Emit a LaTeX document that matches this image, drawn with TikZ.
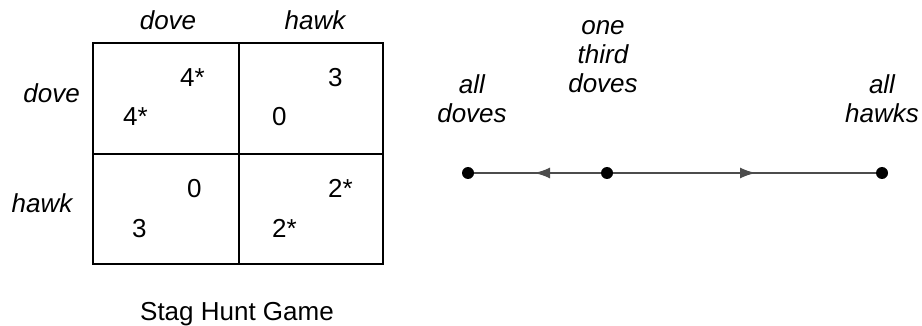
\documentclass[tikz,border=0pt]{standalone}
\usepackage{fontspec}
\setmainfont{Liberation Sans}
\usetikzlibrary{arrows.meta}
\begin{document}
\begin{tikzpicture}[x=1pt,y=-1pt,
  lbl/.style={font=\fontsize{26}{29}\selectfont\itshape, inner sep=0pt, align=center},
  num/.style={font=\fontsize{26}{29}\selectfont, inner sep=0pt, anchor=base west},
  grid/.style={draw=black, line width=1.5pt},
  axis/.style={draw=black!70, line width=2.2pt},
  dot/.style={circle, fill=black, inner sep=0pt, minimum size=12pt},
  tip/.style={-{Latex[length=16pt,width=11pt]}}]
\useasboundingbox (0,0) rectangle (922,326);
% payoff table
\draw[grid] (93,43) rectangle (383,264);
\draw[grid] (239,43) -- (239,264);
\draw[grid] (93,154) -- (383,154);
% labels
\node[lbl, anchor=base] (cd) at (168,30) {dove};
\node[lbl, anchor=base] (ch) at (315,30) {hawk};
\node[lbl, anchor=base east] (rd) at (80,103) {dove};
\node[lbl, anchor=base] (rh) at (42,213) {hawk};
% payoffs
\node[num] (a1) at (180,87) {4*};
\node[num] (a2) at (123,126) {4*};
\node[num] (b1) at (328,87) {3};
\node[num] (b2) at (272,126) {0};
\node[num] (c1) at (187,197) {0};
\node[num] (c2) at (132,238) {3};
\node[num] (d1) at (328,197) {2*};
\node[num] (d2) at (272,238) {2*};
\node[font=\fontsize{26}{29}\selectfont, inner sep=0pt, anchor=base] (cap) at (237,320) {Stag Hunt Game};
% dynamics line
\node[dot] (p1) at (468,173) {};
\node[dot] (p2) at (607,173) {};
\node[dot] (p3) at (882,173) {};
\coordinate (tl) at (534,173);
\coordinate (tr) at (756,173);
\draw[axis] (p1) -- (p2);
\draw[axis] (p2) -- (p3);
\draw[axis, tip] (p2) -- (tl);
\draw[axis, tip] (p2) -- (tr);
\node[lbl, anchor=base] (l1) at (472,123) {all\\doves};
\node[lbl, anchor=base] (l2) at (603,93) {one\\third\\doves};
\node[lbl, anchor=base] (l3) at (882,123) {all\\hawks};
\end{tikzpicture}
\end{document}
